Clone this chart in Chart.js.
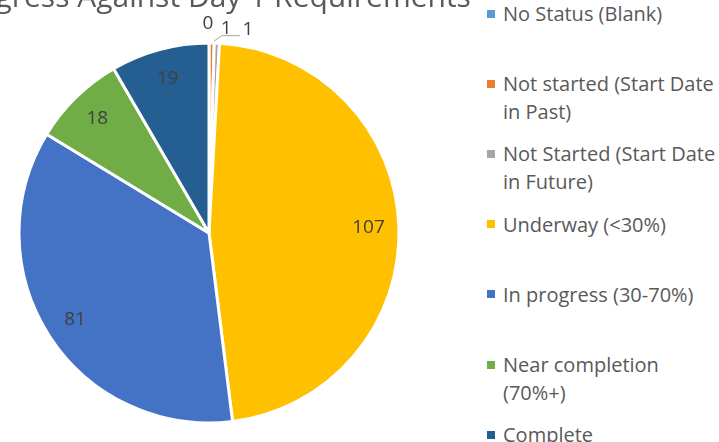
<!DOCTYPE html>
<html>
<head>
<meta charset="utf-8">
<script src="https://cdn.jsdelivr.net/npm/chart.js@4"></script>
<style>
  body { margin: 0; width: 719px; height: 442px; overflow: hidden; background: #fff; position: relative; }
  #wrap { position: absolute; left: -60px; top: -30px; width: 538px; height: 456px; }
  #legend { position: absolute; left: 487px; top: 0; width: 232px; font-family: "Open Sans", sans-serif; font-size: 20px; color: #595959; }
  .item { position: absolute; left: 0; width: 232px; line-height: 27.5px; }
  .box { position: absolute; left: 0; top: 9.5px; width: 8px; height: 8px; }
  .txt { margin-left: 16px; width: 215px; }
</style>
</head>
<body>
<div id="wrap"><canvas id="pie"></canvas></div>
<div id="legend"></div>
<script>
// status categories and counts
let statuses = ["No Status (Blank)", "Not started (Start Date in Past)", "Not Started (Start Date in Future)",
  "Underway (<30%)", "In progress (30-70%)", "Near completion (70%+)", "Complete"];
let counts = [0, 1, 1, 107, 81, 18, 19];
let colors = ["#5B9BD5", "#ED7D31", "#A5A5A5", "#FFC000", "#4472C4", "#70AD47", "#255E91"];

// little slices get their label outside, nudged so they don't overlap
let outsideOffsets = [[-1, -19], [14.5, -14], [31, -14]];

const valueLabels = {
  id: "valueLabels",
  afterDatasetsDraw(chart) {
    let ctx = chart.ctx;
    let arcs = chart.getDatasetMeta(0).data;
    ctx.save();
    ctx.font = "19px 'Open Sans', sans-serif";
    ctx.fillStyle = "#404040";
    ctx.textAlign = "center";
    ctx.textBaseline = "middle";
    let k = 0;
    arcs.forEach((arc, i) => {
      let p = arc.getProps(["x", "y", "startAngle", "endAngle", "outerRadius"], true);
      let mid = (p.startAngle + p.endAngle) / 2;
      if (counts[i] >= 5) {
        let r = p.outerRadius * 0.84;
        ctx.fillText(counts[i], p.x + Math.cos(mid) * r, p.y + Math.sin(mid) * r);
      } else {
        let ex = p.x + Math.cos(mid) * p.outerRadius;
        let ey = p.y + Math.sin(mid) * p.outerRadius;
        let off = outsideOffsets[k] || [0, -20];
        let lx = ex + off[0], ly = ey + off[1];
        ctx.fillText(counts[i], lx, ly);
        if (k == 2) {
          // leader line
          ctx.strokeStyle = "#A6A6A6";
          ctx.lineWidth = 1;
          ctx.beginPath();
          ctx.moveTo(ex - 3, ey - 2);
          ctx.lineTo(lx - 26, ly + 6.5);
          ctx.lineTo(lx - 8, ly + 6.5);
          ctx.stroke();
        }
        k++;
      }
    });
    ctx.restore();
  }
};

let chart = new Chart(document.getElementById("pie"), {
  type: "pie",
  data: {
    labels: statuses,
    datasets: [{
      data: counts,
      backgroundColor: colors,
      borderColor: "#ffffff",
      borderWidth: 3,
      radius: 190
    }]
  },
  options: {
    responsive: true,
    maintainAspectRatio: false,
    animation: false,
    plugins: {
      legend: { display: false },
      tooltip: { enabled: false },
      title: {
        display: true,
        text: "Progress Against Day 1 Requirements",
        color: "#595959",
        font: { family: "'Open Sans', sans-serif", size: 30, weight: "normal" },
        padding: { top: 10, bottom: 24 }
      }
    }
  },
  plugins: [valueLabels]
});

// legend on the right
let legend = document.getElementById("legend");
for (let i = 0; i < statuses.length; i++) {
  let item = document.createElement("div");
  item.className = "item";
  item.style.top = (i * 70.2) + "px";
  let box = document.createElement("div");
  box.className = "box";
  box.style.background = colors[i];
  let txt = document.createElement("div");
  txt.className = "txt";
  txt.innerText = statuses[i];
  item.appendChild(box);
  item.appendChild(txt);
  legend.appendChild(item);
}
</script>
</body>
</html>
